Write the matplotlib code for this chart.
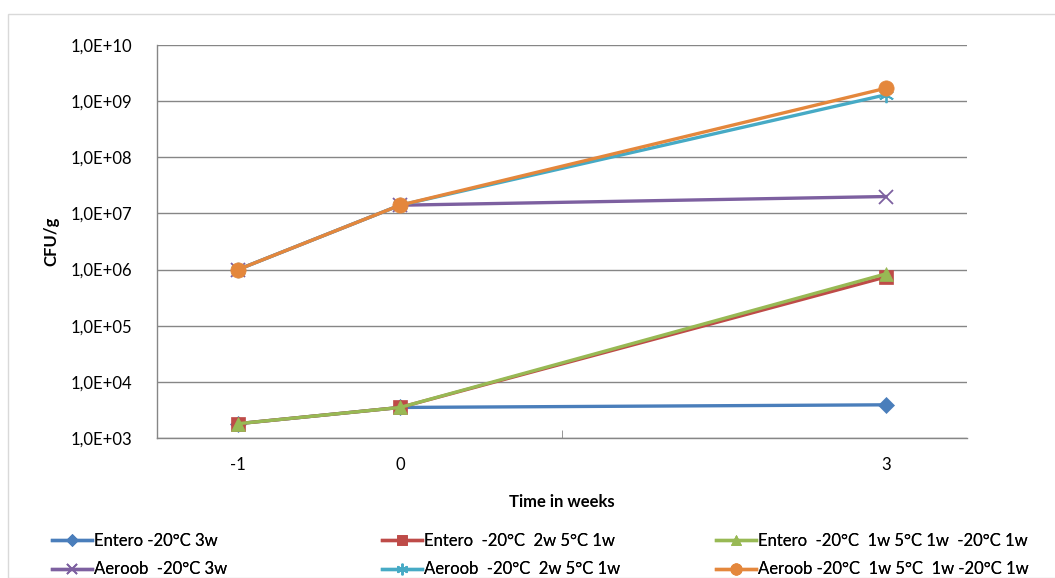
import math
import matplotlib
matplotlib.use('Agg')
import matplotlib.pyplot as plt
from matplotlib.patches import Rectangle
from matplotlib.ticker import FixedLocator, FuncFormatter

plt.rcParams['font.family'] = ['Lato', 'DejaVu Sans']

weeks = [-1, 0, 3]
entero_3w = [1.8e3, 3.5e3, 3.9e3]
entero_2w5c = [1.8e3, 3.5e3, 7.4e5]
entero_1w5c1w = [1.8e3, 3.5e3, 8.4e5]
aeroob_3w = [1.0e6, 1.4e7, 2.0e7]
aeroob_2w5c = [1.0e6, 1.4e7, 1.3e9]
aeroob_1w5c1w = [1.0e6, 1.4e7, 1.7e9]

labels = ['Entero -20°C 3w',
          'Entero  -20°C  2w 5°C 1w',
          'Entero  -20°C  1w 5°C 1w  -20°C 1w',
          'Aeroob  -20°C 3w',
          'Aeroob  -20°C  2w 5°C 1w',
          'Aeroob -20°C  1w 5°C  1w -20°C 1w']
series = [entero_3w, entero_2w5c, entero_1w5c1w, aeroob_3w, aeroob_2w5c, aeroob_1w5c1w]
colors = ['#4A7EBB', '#BE4B48', '#98B954', '#7D60A0', '#46AAC5', '#E4873C']
markers = ['D', 's', '^', 'x', (6, 2, 0), 'o']
msizes = [8, 10, 10, 10, 11, 11]

fig = plt.figure(figsize=(10.55, 5.78), dpi=100)
ax = fig.add_axes([157 / 1055, 1 - 438 / 578, 810 / 1055, 393 / 578])

fig.patches.append(Rectangle((8 / 1055, 0), 1, 1 - 14 / 578, transform=fig.transFigure,
                             fill=False, edgecolor='#d9d9d9', linewidth=1))

handles = []
for vals, lab, c, m, ms in zip(series, labels, colors, markers, msizes):
    h, = ax.plot(weeks, vals, color=c, linewidth=2.4, marker=m, markersize=ms,
                 markeredgecolor=c, markeredgewidth=1.3 if m in ('x', (6, 2, 0)) else 0.5,
                 label=lab)
    handles.append(h)

ax.set_yscale('log')
ax.set_ylim(1e3, 1e10)
ax.set_xlim(-1.5, 3.5)
ax.yaxis.set_major_locator(FixedLocator([10.0 ** k for k in range(3, 11)]))
ax.yaxis.set_minor_locator(FixedLocator([]))
ax.yaxis.set_major_formatter(FuncFormatter(lambda v, p: '1,0E+%02d' % round(math.log10(v))))
ax.set_xticks(weeks)
ax.set_xticklabels(['-1', '0', '3'])
ax.xaxis.set_minor_locator(FixedLocator([1]))
ax.tick_params(axis='x', which='major', length=0, pad=14, labelsize=12)
ax.tick_params(axis='x', which='minor', length=6, direction='in', color='#868686')
ax.tick_params(axis='y', length=0, pad=18, labelsize=12)
ax.grid(axis='y', color='#868686', linewidth=1)
ax.set_axisbelow(True)
for s in ['top', 'right']:
    ax.spines[s].set_visible(False)
for s in ['left', 'bottom']:
    ax.spines[s].set_color('#868686')
    ax.spines[s].set_linewidth(1)

ax.set_xlabel('Time in weeks', fontsize=12, fontweight='bold', labelpad=15)
ax.set_ylabel('CFU/g', fontsize=12, fontweight='bold', labelpad=8)

col_x = [52, 382, 716]
for i in range(3):
    leg = fig.legend([handles[i], handles[i + 3]], [labels[i], labels[i + 3]],
                     loc='upper left', bbox_to_anchor=(col_x[i] / 1055, 1 - 533 / 578),
                     frameon=False, fontsize=12, handlelength=2.4, handletextpad=0.1,
                     labelspacing=0.75, borderaxespad=0, borderpad=0, markerscale=0.75)
    fig.add_artist(leg)

fig.savefig('out.png', dpi=100)
